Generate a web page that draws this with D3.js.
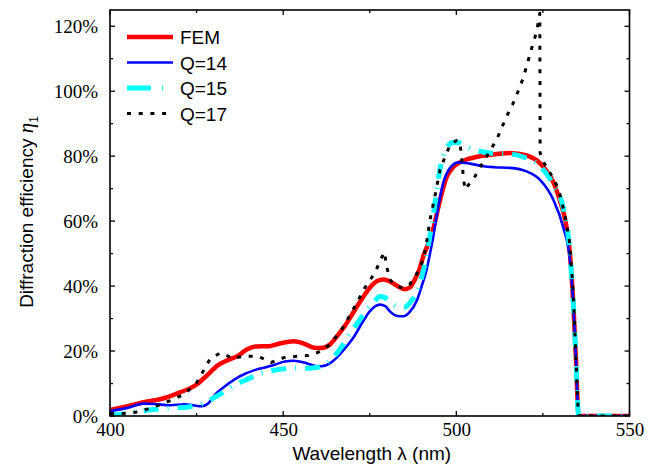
<!DOCTYPE html>
<html>
<head>
<meta charset="utf-8">
<script src="https://cdn.jsdelivr.net/npm/d3@7"></script>
<style>
  html, body { margin: 0; padding: 0; background: #fff; }
  svg { display: block; }
</style>
</head>
<body>
<svg id="chart" width="660" height="468"></svg>
<script>
// ---- data (wavelength nm, efficiency %) ----
const seriesNames = ["FEM", "Q=14", "Q=15", "Q=17"];
const femData = [[400,1.8],[405,3],[410,4.3],[415,5.3],[420,7.2],[425,9.7],[428,12.5],[431,15.5],[434,17.2],[437,18.6],[439.5,20.5],[442,21.4],[446,21.5],[449,22.3],[453,23],[456,22.3],[459,21],[461,20.9],[463.5,22],[465.5,24.5],[468,28],[470.2,31.8],[473,36.5],[475,39.5],[477,41.5],[479,42],[481,41.3],[483,40],[485,39],[486.5,39.5],[488,42],[489.3,45],[490.4,49],[491.5,52],[493.3,57.5],[495.3,66.5],[497.2,73.5],[499,76.5],[500.5,77.8],[503,79],[506,79.8],[509,80.3],[515.5,81],[520.3,80.2],[524,78],[526,75.5],[528,72],[530,66],[531.5,60],[532.8,50],[533.8,34],[534.5,18.5],[535.2,1],[535.4,0],[550,0]];
const q14Data = [[400,1.5],[405,2.5],[409.8,3.8],[413,3.7],[417.3,3.3],[421.6,3.6],[424,3.3],[426.5,3],[428.5,4],[430.3,6.5],[433,9],[436,11.3],[439,13],[442,14.2],[445,15],[447.6,15.8],[450.5,16.8],[453,17],[456,16.5],[459,15.5],[461,15.3],[463.5,16.2],[465.4,17.9],[468,21],[470.2,24],[473,29],[475,32.2],[477.9,34.3],[479.5,33.8],[480.8,32.2],[483,30.8],[484.7,30.7],[486.5,32],[488.5,35.3],[490,40],[491.4,45],[492.4,50],[493.3,55],[494.3,61.5],[496.2,71.7],[498.2,76.4],[500.6,78.1],[503.9,77.7],[507.8,76.9],[511,76.6],[515.5,76.4],[520.3,75.3],[524.1,72.8],[528,66.6],[530.9,58],[532.8,48],[533.8,34],[534.5,18.5],[535.2,1],[535.4,0],[550,0]];
const q15Data = [[400,0.3],[403,0.5],[408,1.3],[412.5,2],[417,2.4],[422.6,2.8],[426,3.5],[429,5],[432.7,7.3],[436,9.5],[440,11.5],[443.3,13],[447,14],[451,14.6],[454,14.8],[457,14.7],[460,15],[462.9,16.4],[464.4,17.9],[467,21.5],[469,25],[471.2,28.2],[474,32.5],[476.5,35.5],[478,36.9],[479.4,36.4],[481,35],[483,33.7],[485,33.5],[487.1,35.5],[489,39],[490.4,44.5],[491.4,49],[492.3,55],[493.3,61.5],[494.3,69],[495.2,75.5],[496.2,80],[497.5,83],[499,84.2],[500.5,84.2],[502,83.3],[505,82],[509.7,81],[515.5,80.7],[520,79.5],[524.1,77],[528,71.2],[531,63.5],[532.8,50],[533.8,34],[534.5,18.5],[535.2,1],[535.4,0],[550,0]];
const q17Data = [[400,0.8],[404,0.8],[407.7,1.2],[411,2.2],[414.4,3.5],[417.8,4.9],[421.6,6.8],[425,10.2],[426.9,13.8],[428.9,17.6],[431.8,19.4],[433.5,18.8],[435.5,17.6],[437.5,18.2],[439.5,18.4],[442.8,18.4],[444.5,17.5],[446.5,16.5],[448.5,17.2],[450,17.9],[453.9,18.4],[457.3,18.6],[460.6,19.8],[463.5,22],[466.9,26.6],[470.2,32.8],[474.1,40.5],[476.5,44],[477.9,47.6],[479.2,50.5],[479.9,46],[480.8,42],[482.5,40],[484.7,39.4],[486.5,40.5],[488,42.5],[489.3,45.5],[490.4,48],[491.4,53.3],[492.4,60.5],[493.8,67.6],[495.3,75.8],[496.8,80],[498.2,83.5],[500,84.8],[501,84.5],[501.5,80],[502,73.8],[502.5,69.7],[505.4,73.8],[508.7,79.9],[511.6,85],[514.5,92.2],[516.9,97.4],[519.3,104],[521.7,113],[523.2,118.4],[524.1,124],[524.2,81],[525,78.5],[527,75],[528.7,71.7],[530.1,67.6],[531.6,60.5],[532.6,54.3],[533.5,42],[534,32],[534.5,18.5],[535.2,1],[535.4,0],[550,0]];
const xTicks = [400, 425, 450, 475, 500, 525, 550];
const xLabels = [400, 450, 500, 550];
const yTicks = [0, 10, 20, 30, 40, 50, 60, 70, 80, 90, 100, 110, 120];
const yLabels = [0, 20, 40, 60, 80, 100, 120];

// ---- styles ----
const styles = {
  "FEM":  { color: "#ff0000", width: 4.5, dash: null, curve: d3.curveMonotoneX },
  "Q=14": { color: "#0000ff", width: 2.6, dash: null, curve: d3.curveMonotoneX },
  "Q=15": { color: "#00ffff", width: 5,   dash: "15,9,1,9", curve: d3.curveMonotoneX },
  "Q=17": { color: "#000000", width: 3,   dash: "4,7.7", curve: d3.curveLinear }
};
const seriesData = { "FEM": femData, "Q=14": q14Data, "Q=15": q15Data, "Q=17": q17Data };
const SERIF = "Liberation Serif, Times New Roman, serif";
const SANS = "Liberation Sans, Arial, sans-serif";

const L = 110, R = 629.5, T = 10, B = 416;
const x = d3.scaleLinear().domain([400, 550]).range([L, R]);
const y = d3.scaleLinear().domain([0, 125]).range([B, T]);

const svg = d3.select("#chart");

svg.append("defs").append("clipPath").attr("id", "clip")
  .append("rect").attr("x", L).attr("y", T).attr("width", R - L).attr("height", B - T);

const gLines = svg.append("g").attr("clip-path", "url(#clip)");
seriesNames.forEach(name => {
  const s = styles[name];
  const line = d3.line().x(d => x(d[0])).y(d => y(d[1])).curve(s.curve);
  gLines.append("path")
    .datum(seriesData[name])
    .attr("d", line)
    .attr("fill", "none")
    .attr("stroke", s.color)
    .attr("stroke-width", s.width)
    .attr("stroke-dasharray", s.dash)
    .attr("stroke-linejoin", "round");
});

const majorX = v => xLabels.includes(v);
const majorY = v => yLabels.includes(v);
const axG = svg.append("g");

const axBottom = d3.axisBottom(x).tickValues(xTicks).tickFormat(d => majorX(d) ? d : "").tickSizeInner(0).tickSizeOuter(0);
const gb = axG.append("g").attr("transform", `translate(0,${B})`).call(axBottom);
gb.attr("font-family", SERIF).attr("font-size", 19);
gb.selectAll(".tick line").remove();
gb.select(".domain").remove();
gb.selectAll(".tick text").attr("y", 20).attr("dy", 0).attr("fill", "#000");

const axLeft = d3.axisLeft(y).tickValues(yTicks).tickFormat(d => majorY(d) ? d + "%" : "").tickSizeInner(0).tickSizeOuter(0);
const gl = axG.append("g").attr("transform", `translate(${L},0)`).call(axLeft);
gl.attr("font-family", SERIF).attr("font-size", 19);
gl.selectAll(".tick line").remove();
gl.select(".domain").remove();
gl.selectAll(".tick text").attr("x", -12).attr("dy", "0.34em").attr("fill", "#000");

const tickG = svg.append("g").attr("stroke", "#000").attr("stroke-width", 1.3);
xTicks.forEach(v => {
  const len = majorX(v) ? 5 : 3;
  tickG.append("line").attr("x1", x(v)).attr("x2", x(v)).attr("y1", B).attr("y2", B - len);
  tickG.append("line").attr("x1", x(v)).attr("x2", x(v)).attr("y1", T).attr("y2", T + len);
});
yTicks.forEach(v => {
  const len = majorY(v) ? 5 : 3;
  tickG.append("line").attr("x1", L).attr("x2", L + len).attr("y1", y(v)).attr("y2", y(v));
  tickG.append("line").attr("x1", R).attr("x2", R - len).attr("y1", y(v)).attr("y2", y(v));
});

svg.append("rect").attr("x", L).attr("y", T).attr("width", R - L).attr("height", B - T)
  .attr("fill", "none").attr("stroke", "#000").attr("stroke-width", 1.6);

svg.append("text").attr("x", (L + R) / 2 + 2).attr("y", 460).attr("text-anchor", "middle")
  .attr("font-family", SANS).attr("font-size", 19).attr("fill", "#000")
  .text("Wavelength λ (nm)");

const yt = svg.append("text").attr("transform", "translate(33,212) rotate(-90)").attr("text-anchor", "middle")
  .attr("font-family", SANS).attr("font-size", 19).attr("fill", "#000");
yt.append("tspan").text("Diffraction efficiency ");
yt.append("tspan").attr("font-family", SERIF).attr("font-style", "italic").attr("font-size", 21).text("η");
yt.append("tspan").attr("font-size", 12).attr("dy", 5).text("1");

const legendG = svg.append("g");
seriesNames.forEach((name, i) => {
  const s = styles[name];
  const cy = 37 + i * 25.5;
  legendG.append("line").attr("x1", 127).attr("x2", 173).attr("y1", cy).attr("y2", cy)
    .attr("stroke", s.color).attr("stroke-width", s.width).attr("stroke-dasharray", name === "Q=15" ? "24,11,1,11" : s.dash);
  legendG.append("text").attr("x", 180).attr("y", cy + 7)
    .attr("font-family", SANS).attr("font-size", 19).attr("fill", "#000")
    .text(name);
});
</script>
</body>
</html>
